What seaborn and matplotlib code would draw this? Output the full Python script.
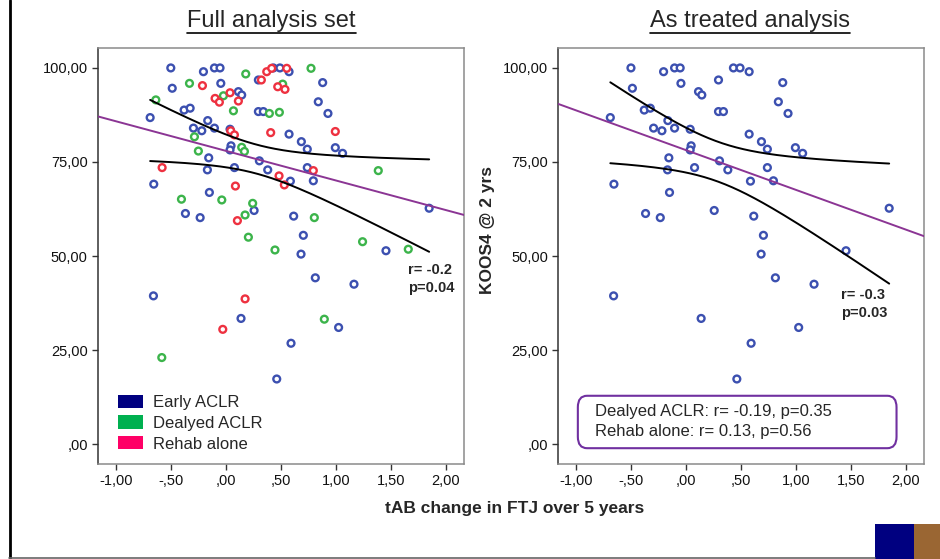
import numpy as np
import pandas as pd
import matplotlib
matplotlib.use("Agg")
import matplotlib.pyplot as plt
import seaborn as sns
from matplotlib.patches import Patch, FancyBboxPatch, Rectangle
from matplotlib.lines import Line2D

# ---------------- data ----------------
early_x = [-0.503, -0.206, -0.106, -0.055, -0.49, -0.048, 0.294, 0.43, 0.49, 0.573,
           0.879, 0.112, 0.142, 0.839, 0.927, -0.382, -0.327, -0.691, 0.294, 0.339,
           -0.167, -0.297, -0.221, -0.106, 0.036, 0.573, 0.685, 0.739, 0.994, 1.06,
           0.045, 0.036, 0.303, -0.158, -0.17, 0.076, 0.379, 0.739, -0.658, 0.585,
           0.794, -0.152, -0.37, -0.236, 0.255, 0.615, 1.848, 0.703, 0.682, 1.455,
           0.812, 1.164, -0.661, 0.136, 1.024, 0.591, 0.461]
early_y = [100.0, 99.0, 100.0, 100.0, 94.6, 95.9, 96.8, 100.0, 100.0, 99.0,
           96.1, 93.7, 92.8, 91.0, 87.9, 88.8, 89.3, 86.8, 88.4, 88.4,
           86.0, 84.0, 83.3, 84.0, 83.7, 82.4, 80.4, 78.4, 78.8, 77.3,
           79.3, 78.2, 75.3, 76.1, 72.9, 73.5, 72.9, 73.5, 69.1, 69.9,
           70.0, 66.9, 61.3, 60.2, 62.1, 60.6, 62.7, 55.5, 50.5, 51.4,
           44.2, 42.5, 39.4, 33.4, 31.0, 26.8, 17.3]

delayed_x = [-0.639, -0.333, 0.179, 0.773, 0.515, -0.024, 0.067, 0.394, 0.485, -0.288,
             -0.252, 0.142, 0.167, 1.385, -0.406, -0.039, 0.242, 0.173, 0.803, 0.203,
             0.445, 1.242, 1.658, 0.894, -0.585]
delayed_y = [91.5, 95.9, 98.4, 99.9, 95.7, 92.6, 88.6, 87.9, 88.2, 81.7,
             77.9, 78.9, 77.8, 72.7, 65.1, 64.9, 64.0, 60.9, 60.2, 55.0,
             51.6, 53.8, 51.8, 33.2, 23.0]

rehab_x = [-0.215, -0.1, -0.061, 0.036, 0.112, 0.321, 0.37, 0.415, 0.552, 0.47,
           0.536, 0.042, 0.076, 0.406, 0.994, -0.582, 0.794, 0.482, 0.53, 0.085,
           0.103, 0.173, -0.03]
rehab_y = [95.3, 91.9, 90.9, 93.4, 91.2, 96.8, 99.0, 99.9, 99.9, 95.0,
           94.3, 83.3, 82.2, 82.8, 83.1, 73.5, 72.7, 71.3, 68.9, 68.6,
           59.4, 38.6, 30.5]

groups = ["Early ACLR", "Dealyed ACLR", "Rehab alone"]
x_ticks = [-1.0, -0.5, 0.0, 0.5, 1.0, 1.5, 2.0]
x_ticklabels = ["-1,00", "-,50", ",00", ",50", "1,00", "1,50", "2,00"]
y_ticks = [0, 25, 50, 75, 100]
y_ticklabels = [",00", "25,00", "50,00", "75,00", "100,00"]

titles = ["Full analysis set", "As treated analysis"]
stat_left = "r= -0.2\np=0.04"
stat_right = "r= -0.3\np=0.03"
box_lines = ["Dealyed ACLR: r= -0.19, p=0.35", "Rehab alone: r= 0.13, p=0.56"]
xlabel = "tAB change in FTJ over 5 years"
ylabel = "KOOS4 @ 2 yrs"

# ---------------- style ----------------
FONT = ["Liberation Sans", "DejaVu Sans"]
sns.set_theme(style="white")
plt.rcParams["font.family"] = FONT

marker_colors = {"Early ACLR": "#3c50b0", "Dealyed ACLR": "#3cb44b", "Rehab alone": "#ee3140"}
legend_colors = {"Early ACLR": "#000080", "Dealyed ACLR": "#00b050", "Rehab alone": "#ff0066"}
PURPLE = "#8b3594"

df = pd.DataFrame({
    "x": early_x + delayed_x + rehab_x,
    "y": early_y + delayed_y + rehab_y,
    "group": [groups[0]] * len(early_x) + [groups[1]] * len(delayed_x) + [groups[2]] * len(rehab_x),
})
df_early = df[df.group == groups[0]]

W, H = 940, 559
fig = plt.figure(figsize=(W / 100, H / 100), dpi=100)

def ax_rect(l, r, t, b):
    return [l / W, 1 - b / H, (r - l) / W, (b - t) / H]

axL = fig.add_axes(ax_rect(97.5, 464, 48, 464))
axR = fig.add_axes(ax_rect(557.7, 924, 48, 464))


def fit_lines(ax, d):
    x = d["x"].to_numpy()
    y = d["y"].to_numpy()
    n = len(x)
    b, a = np.polyfit(x, y, 1)
    resid = y - (a + b * x)
    s = np.sqrt(np.sum(resid ** 2) / (n - 2))
    sxx = np.sum((x - x.mean()) ** 2)
    tval = 1.96 + 2.4 / (n - 2)
    xl = np.array([-1.17, 2.165])
    ax.plot(xl, a + b * xl, color=PURPLE, lw=1.4, zorder=3)
    xs = np.linspace(x.min(), x.max(), 200)
    fit = a + b * xs
    se = s * np.sqrt(1 / n + (xs - x.mean()) ** 2 / sxx)
    ax.plot(xs, fit + tval * se, color="black", lw=1.4, zorder=3)
    ax.plot(xs, fit - tval * se, color="black", lw=1.4, zorder=3)


def scatter(ax, d, order):
    sns.scatterplot(data=d, x="x", y="y", hue="group", hue_order=order,
                    palette=[marker_colors[g] for g in order], s=24,
                    linewidth=1.7, legend=False, ax=ax, zorder=2)
    coll = ax.collections[-1]
    fc = coll.get_facecolors()
    coll.set_edgecolors(fc)
    coll.set_facecolors("white")


scatter(axL, df, groups)
fit_lines(axL, df)
scatter(axR, df_early, [groups[0]])
fit_lines(axR, df_early)

for ax in (axL, axR):
    ax.set_xlim(-1.17, 2.165)
    ax.set_ylim(-5.3, 105.3)
    ax.set_xticks(x_ticks)
    ax.set_xticklabels(x_ticklabels, fontsize=10.5, color="#111111")
    ax.set_yticks(y_ticks)
    ax.set_yticklabels(y_ticklabels, fontsize=10.5, color="#111111")
    ax.tick_params(axis="both", direction="out", length=4, width=1, color="#333333",
                   pad=3, left=True, bottom=True)
    for side in ("top", "right", "bottom"):
        ax.spines[side].set_color("#8a8a8a")
        ax.spines[side].set_linewidth(1.1)
    ax.spines["left"].set_color("#333333")
    ax.spines["left"].set_linewidth(1.1)
    ax.set_xlabel("")
    ax.set_ylabel("")

axL.text(1.655, 48.1, stat_left, fontsize=10.5, fontweight="bold", va="top", ha="left",
         linespacing=1.35)
axR.text(1.41, 41.5, stat_right, fontsize=10.5, fontweight="bold", va="top", ha="left",
         linespacing=1.35)

handles = [Patch(facecolor=legend_colors[g], edgecolor="none") for g in groups]
axL.legend(handles, groups, loc="lower left", bbox_to_anchor=(0.055, 0.03), frameon=False,
           fontsize=12, handlelength=1.5, handleheight=0.85, handletextpad=0.6,
           labelspacing=0.32, borderpad=0, borderaxespad=0)

box = FancyBboxPatch((0.055, 0.038), 0.87, 0.126, boxstyle="round,pad=0,rounding_size=0.025",
                     transform=axR.transAxes, facecolor="white", edgecolor="#7030a0",
                     lw=1.5, zorder=4, mutation_aspect=1.1)
axR.add_patch(box)
axR.text(0.102, 0.127, box_lines[0], transform=axR.transAxes, fontsize=12, va="center",
         ha="left", zorder=5)
axR.text(0.102, 0.077, box_lines[1], transform=axR.transAxes, fontsize=12, va="center",
         ha="left", zorder=5)

# titles (underlined)
tL = fig.text(271.5 / W, 1 - 21 / H, titles[0], fontsize=17, ha="center", va="center")
tR = fig.text(749.5 / W, 1 - 21 / H, titles[1], fontsize=17, ha="center", va="center")
fig.canvas.draw()
for t in (tL, tR):
    bb = t.get_window_extent()
    yline = 1 - 32.5 / H
    fig.add_artist(Line2D([bb.x0 / W, bb.x1 / W], [yline, yline], transform=fig.transFigure,
                          color="black", lw=1.2))

fig.text(514.5 / W, 1 - 509 / H, xlabel, fontsize=12.5, fontweight="bold", ha="center", va="center")
fig.text(487 / W, 1 - 230 / H, ylabel, fontsize=12.5, fontweight="bold", ha="center", va="center",
         rotation=90)

# slide decorations
fig.add_artist(Line2D([10 / W, 10 / W], [0, 1], transform=fig.transFigure, color="black", lw=2))
fig.add_artist(Line2D([9 / W, 875 / W], [1 - 557.5 / H, 1 - 557.5 / H], transform=fig.transFigure,
                      color="#666666", lw=1.2))
fig.add_artist(Rectangle((875 / W, 0), 39 / W, 35 / H, transform=fig.transFigure,
                         facecolor="#000080", edgecolor="none"))
fig.add_artist(Rectangle((914 / W, 0), 26 / W, 35 / H, transform=fig.transFigure,
                         facecolor="#9a6633", edgecolor="none"))

fig.savefig("out.png", dpi=100)
